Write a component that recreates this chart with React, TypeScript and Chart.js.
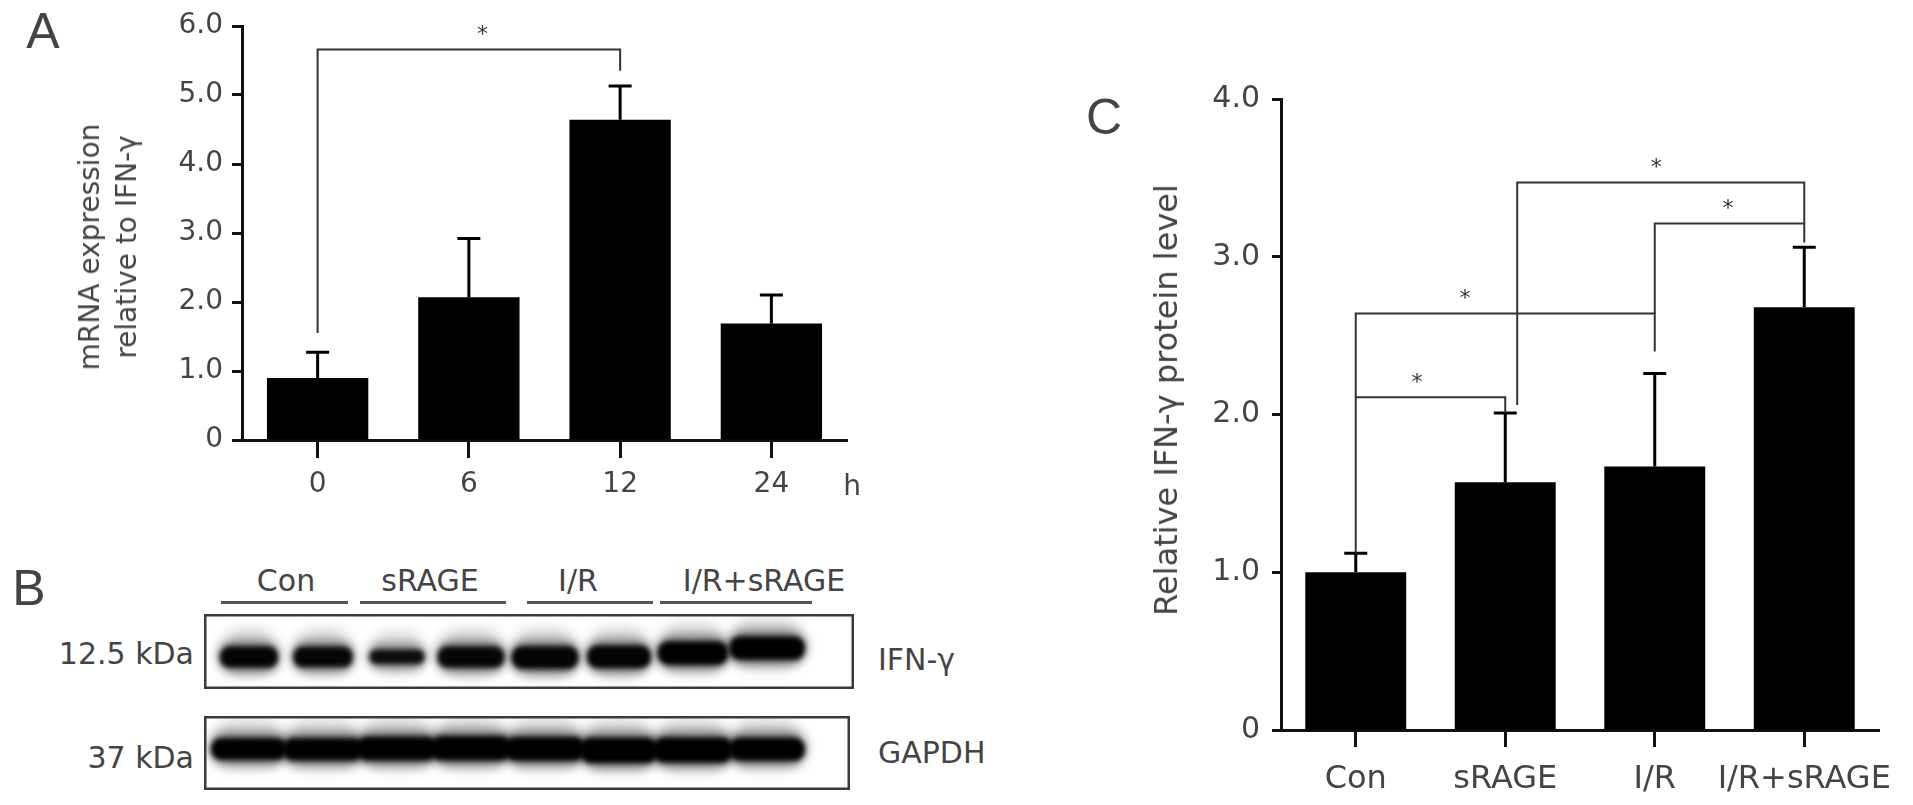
import React, { useEffect, useRef } from 'react';
import { Chart, registerables } from 'chart.js';
Chart.register(...registerables);

const FONT = "'DejaVu Sans', 'Liberation Sans', sans-serif";
const LETTER_FONT = "'Liberation Sans', 'DejaVu Sans', sans-serif";
const TEXT = '#444';
const AXIS = '#111';

// ---------- Panel A: mRNA time course ----------
const hourLabels = ['0', '6', '12', '24'];
const mrnaMean = [0.9, 2.07, 4.64, 1.69];
const mrnaSem = [0.37, 0.85, 0.49, 0.41];
const mrnaTicks = [0, 1, 2, 3, 4, 5, 6];
const mrnaTickLabels = ['0', '1.0', '2.0', '3.0', '4.0', '5.0', '6.0'];
const mrnaBrackets = [
  { a: 0, b: 2, y: 5.66, aEnd: 1.55, bEnd: 5.35, starX: 1.09, starY: 5.86 },
];

// ---------- Panel C: protein level ----------
const groupLabels = ['Con', 'sRAGE', 'I/R', 'I/R+sRAGE'];
const proteinMean = [1.0, 1.57, 1.67, 2.68];
const proteinSem = [0.12, 0.44, 0.59, 0.38];
const proteinTicks = [0, 1, 2, 3, 4];
const proteinTickLabels = ['0', '1.0', '2.0', '3.0', '4.0'];
const proteinBrackets = [
  { a: 0, b: 1, y: 2.11, aEnd: 1.12, bEnd: 2.01, starX: 0.41, starY: 2.2 },
  { a: 0, b: 2, y: 2.64, aEnd: 2.11, bEnd: 2.4, starX: 0.73, starY: 2.73 },
  { a: 1, b: 3, y: 3.47, aEnd: 2.06, bEnd: 3.21, aShift: 0.08, starX: 2.01, starY: 3.56 },
  { a: 2, b: 3, y: 3.21, aEnd: 2.64, bEnd: 3.09, starX: 2.49, starY: 3.3 },
];

// ---------- Panel B: western blot ----------
const blotLanes = [1, 2, 3, 4, 5, 6, 7, 8];
const ifnBandPos = [4.27, 4.27, 4.3, 4.27, 4.2, 4.3, 4.8, 5.45];
const ifnBandInt = [0.97, 0.95, 0.9, 0.95, 0.97, 0.97, 1.0, 1.0];
const ifnBandThick = [2.8, 2.7, 1.9, 2.8, 3.0, 3.0, 3.1, 3.1];
const ifnBandWidth = [0.78, 0.8, 0.74, 0.9, 0.9, 0.86, 0.95, 1.02];
const gapdhBandPos = [5.55, 5.5, 5.6, 5.65, 5.55, 5.35, 5.4, 5.5];
const gapdhBandInt = [1.0, 1.0, 1.0, 1.0, 1.0, 1.0, 1.0, 1.0];
const gapdhBandThick = [2.9, 3.0, 3.2, 3.3, 3.2, 3.4, 3.4, 3.1];
const gapdhBandWidth = [1.02, 1.08, 1.08, 1.08, 1.08, 1.05, 1.08, 1.02];
const blotGroups = ['Con', 'sRAGE', 'I/R', 'I/R+sRAGE'];
const blotMarkers = ['12.5 kDa', '37 kDa'];
const blotTargets = ['IFN-γ', 'GAPDH'];

type Bracket = { a: number; b: number; y: number; aEnd: number; bEnd: number; aShift?: number; starX: number; starY: number };

function annotationPlugin(sem: number[], brackets: Bracket[], o: { errW: number; capW: number; brW: number; star: number }) {
  return {
    id: 'annot',
    afterDatasetsDraw(chart: any) {
      const ctx = chart.ctx;
      const xs = chart.scales.x;
      const ys = chart.scales.y;
      const meta = chart.getDatasetMeta(0);
      const data = chart.data.datasets[0].data as number[];
      ctx.save();
      ctx.strokeStyle = '#000';
      ctx.lineWidth = o.errW;
      meta.data.forEach((bar: any, i: number) => {
        const top = ys.getPixelForValue(data[i] + sem[i]);
        ctx.beginPath();
        ctx.moveTo(bar.x, bar.y);
        ctx.lineTo(bar.x, top);
        ctx.moveTo(bar.x - o.capW / 2, top);
        ctx.lineTo(bar.x + o.capW / 2, top);
        ctx.stroke();
      });
      ctx.strokeStyle = '#333';
      ctx.lineWidth = o.brW;
      brackets.forEach((b) => {
        const xa = xs.getPixelForValue(b.a + (b.aShift || 0));
        const xb = xs.getPixelForValue(b.b);
        ctx.beginPath();
        ctx.moveTo(xa, ys.getPixelForValue(b.aEnd));
        ctx.lineTo(xa, ys.getPixelForValue(b.y));
        ctx.lineTo(xb, ys.getPixelForValue(b.y));
        ctx.lineTo(xb, ys.getPixelForValue(b.bEnd));
        ctx.stroke();
      });
      ctx.fillStyle = '#333';
      ctx.font = `${o.star}px ${FONT}`;
      ctx.textAlign = 'center';
      ctx.textBaseline = 'middle';
      brackets.forEach((b) => ctx.fillText('*', xs.getPixelForValue(b.starX), ys.getPixelForValue(b.starY)));
      ctx.restore();
    },
  };
}

function blotPlugin(intensity: number[], thick: number[], width: number[]) {
  return {
    id: 'blot',
    afterDatasetsDraw(chart: any) {
      const ctx = chart.ctx;
      const xs = chart.scales.x;
      const ys = chart.scales.y;
      const area = chart.chartArea;
      const meta = chart.getDatasetMeta(0);
      const raw = chart.data.datasets[0].data as { x: number; y: number }[];
      ctx.save();
      ctx.beginPath();
      ctx.rect(area.left, area.top, area.right - area.left, area.bottom - area.top);
      ctx.clip();
      meta.data.forEach((pt: any, i: number) => {
        const lane = raw[i].x;
        const pos = raw[i].y;
        const w = Math.abs(xs.getPixelForValue(lane + width[i] / 2) - xs.getPixelForValue(lane - width[i] / 2));
        const h = Math.abs(ys.getPixelForValue(pos + thick[i] / 2) - ys.getPixelForValue(pos - thick[i] / 2));
        // faint haze above / around the band
        ctx.filter = 'blur(7px)';
        ctx.fillStyle = `rgba(0,0,0,${0.22 * intensity[i]})`;
        ctx.beginPath();
        ctx.roundRect(pt.x - w / 2, pt.y - h / 2 - 16, w, h + 24, (h + 24) / 2);
        ctx.fill();
        ctx.filter = 'blur(5px)';
        ctx.fillStyle = `rgba(0,0,0,${0.45 * intensity[i]})`;
        ctx.beginPath();
        ctx.roundRect(pt.x - w / 2 - 2, pt.y - h / 2 - 5, w + 4, h + 10, (h + 10) / 2);
        ctx.fill();
        ctx.filter = 'blur(2.5px)';
        ctx.fillStyle = `rgba(0,0,0,${intensity[i]})`;
        ctx.beginPath();
        ctx.roundRect(pt.x - w / 2, pt.y - h / 2, w, h, h / 2.2);
        ctx.fill();
      });
      ctx.restore();
      ctx.save();
      ctx.filter = 'none';
      ctx.strokeStyle = '#3a3a3a';
      ctx.lineWidth = 2.5;
      ctx.strokeRect(area.left + 1.25, area.top + 1.25, area.right - area.left - 2.5, area.bottom - area.top - 2.5);
      ctx.restore();
    },
  };
}

function useChart(ref: React.RefObject<HTMLCanvasElement>, make: () => any) {
  useEffect(() => {
    if (!ref.current) return;
    const chart = new Chart(ref.current, make());
    return () => chart.destroy();
  }, []);
}

function barConfig(p: {
  labels: string[]; values: number[]; sem: number[]; brackets: Bracket[]; ticks: number[]; tickLabels: string[];
  max: number; pad: { top: number; right: number }; yWidth: number; xHeight: number; barPct: number;
  xFont: number; yFont: number; xTickLen: number; yTickLen: number; xPad: number; yPad: number;
}) {
  return {
    type: 'bar',
    data: {
      labels: p.labels,
      datasets: [{ data: p.values, backgroundColor: '#000', borderColor: '#000', borderWidth: 0, barPercentage: p.barPct, categoryPercentage: 1 }],
    },
    options: {
      responsive: false,
      animation: false,
      events: [],
      layout: { padding: { left: 0, top: p.pad.top, right: p.pad.right, bottom: 0 } },
      plugins: { legend: { display: false }, tooltip: { enabled: false } },
      scales: {
        x: {
          type: 'category',
          offset: true,
          grid: { display: true, drawOnChartArea: false, offset: false, tickLength: p.xTickLen, tickWidth: 3, tickColor: AXIS },
          border: { display: true, color: AXIS, width: 3 },
          ticks: { color: TEXT, font: { family: FONT, size: p.xFont }, padding: p.xPad, maxRotation: 0, autoSkip: false },
          afterFit: (s: any) => { s.height = p.xHeight; },
        },
        y: {
          type: 'linear',
          min: 0,
          max: p.max,
          afterBuildTicks: (s: any) => { s.ticks = p.ticks.map((v) => ({ value: v })); },
          grid: { display: true, drawOnChartArea: false, tickLength: p.yTickLen, tickWidth: 3, tickColor: AXIS },
          border: { display: true, color: AXIS, width: 3 },
          ticks: { color: TEXT, font: { family: FONT, size: p.yFont }, padding: p.yPad, callback: (_v: any, i: number) => p.tickLabels[i] },
          afterFit: (s: any) => { s.width = p.yWidth; },
        },
      },
    },
    plugins: [annotationPlugin(p.sem, p.brackets, { errW: 3, capW: 23, brW: 2, star: 22 })],
  };
}

function blotConfig(pos: number[], intensity: number[], thick: number[], width: number[], xMax: number) {
  return {
    type: 'scatter',
    data: { datasets: [{ data: blotLanes.map((l, i) => ({ x: l, y: pos[i] })), pointRadius: 0 }] },
    options: {
      responsive: false,
      animation: false,
      events: [],
      layout: { padding: 0 },
      plugins: { legend: { display: false }, tooltip: { enabled: false } },
      scales: {
        x: { type: 'linear', min: 0.392, max: xMax, display: false },
        y: { type: 'linear', min: 0, max: 10, display: false },
      },
    },
    plugins: [blotPlugin(intensity, thick, width)],
  };
}

const T: React.FC<{ x: number; y: number; size: number; family?: string; anchor?: 'c' | 'l' | 'r'; rot?: boolean; lh?: number; children: React.ReactNode }> = ({ x, y, size, family = FONT, anchor = 'c', rot = false, lh, children }) => {
  const tx = anchor === 'c' ? '-50%' : anchor === 'l' ? '0%' : '-100%';
  return (
    <div
      style={{
        position: 'absolute', left: x, top: y, fontFamily: family, fontSize: size, lineHeight: lh ? `${lh}px` : 1,
        color: TEXT, whiteSpace: 'nowrap', textAlign: 'center',
        transform: `translate(${tx}, -50%)${rot ? ' rotate(-90deg)' : ''}`,
      }}
    >
      {children}
    </div>
  );
};

export default function App() {
  const aRef = useRef<HTMLCanvasElement>(null);
  const cRef = useRef<HTMLCanvasElement>(null);
  const b1Ref = useRef<HTMLCanvasElement>(null);
  const b2Ref = useRef<HTMLCanvasElement>(null);

  useChart(aRef, () => barConfig({
    labels: hourLabels, values: mrnaMean, sem: mrnaSem, brackets: mrnaBrackets, ticks: mrnaTicks, tickLabels: mrnaTickLabels,
    max: 6, pad: { top: 26, right: 53 }, yWidth: 242, xHeight: 80, barPct: 0.67,
    xFont: 28, yFont: 28, xTickLen: 18, yTickLen: 10, xPad: 10, yPad: 9,
  }));
  useChart(cRef, () => barConfig({
    labels: groupLabels, values: proteinMean, sem: proteinSem, brackets: proteinBrackets, ticks: proteinTicks, tickLabels: proteinTickLabels,
    max: 4, pad: { top: 39, right: 34 }, yWidth: 181, xHeight: 75, barPct: 0.675,
    xFont: 32, yFont: 30, xTickLen: 17, yTickLen: 9, xPad: 13, yPad: 12,
  }));
  useChart(b1Ref, () => blotConfig(ifnBandPos, ifnBandInt, ifnBandThick, ifnBandWidth, 9.176));
  useChart(b2Ref, () => blotConfig(gapdhBandPos, gapdhBandInt, gapdhBandThick, gapdhBandWidth, 9.122));

  const groupX = [286, 430, 578, 764];
  const underline = [[221, 348], [360, 506], [527, 653], [660, 812]];

  return (
    <div style={{ position: 'fixed', left: 0, top: 0, width: 1913, height: 805, background: '#fff', overflow: 'hidden' }}>
      <canvas ref={aRef} width={900} height={520} style={{ position: 'absolute', left: 0, top: 0, width: 900, height: 520 }} />
      <canvas ref={cRef} width={813} height={745} style={{ position: 'absolute', left: 1100, top: 60, width: 813, height: 745 }} />
      <canvas ref={b1Ref} width={650} height={75} style={{ position: 'absolute', left: 204, top: 614, width: 650, height: 75 }} />
      <canvas ref={b2Ref} width={646} height={74} style={{ position: 'absolute', left: 204, top: 716, width: 646, height: 74 }} />

      <T x={43} y={31} size={50} family={LETTER_FONT}>A</T>
      <T x={29} y={588} size={50} family={LETTER_FONT}>B</T>
      <T x={1104} y={117} size={50} family={LETTER_FONT}>C</T>

      <T x={108} y={247} size={28} rot lh={37}>mRNA expression<br />relative to IFN-γ</T>
      <T x={852} y={486} size={28}>h</T>
      <T x={1166} y={400} size={32} rot>Relative IFN-γ protein level</T>

      {blotGroups.map((g, i) => (
        <T key={g} x={groupX[i]} y={581} size={30}>{g}</T>
      ))}
      {underline.map(([l, r], i) => (
        <div key={i} style={{ position: 'absolute', left: l, top: 601, width: r - l, height: 3, background: '#555' }} />
      ))}
      <T x={194} y={654} size={30} anchor="r">{blotMarkers[0]}</T>
      <T x={194} y={758} size={30} anchor="r">{blotMarkers[1]}</T>
      <T x={878} y={660} size={30} anchor="l">{blotTargets[0]}</T>
      <T x={878} y={753} size={30} anchor="l">{blotTargets[1]}</T>
    </div>
  );
}
